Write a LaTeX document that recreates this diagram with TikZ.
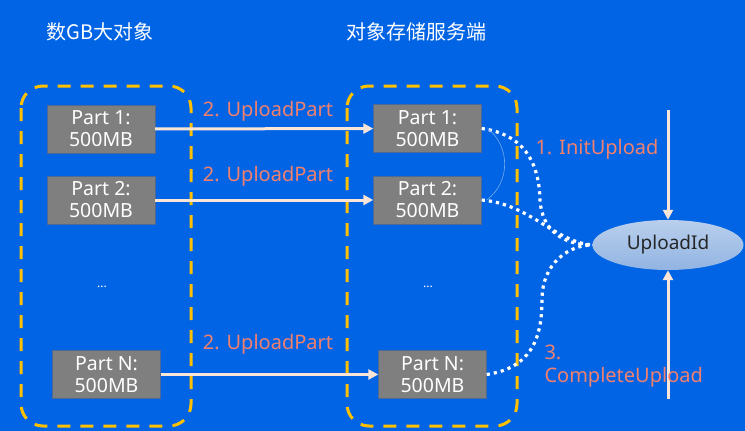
\documentclass[tikz,border=0pt]{standalone}
\usepackage{fontspec}
\setmainfont{Noto Sans}
\newfontfamily\cjk{Noto Sans CJK SC}
\usetikzlibrary{arrows.meta,shapes.geometric}
\definecolor{bg}{HTML}{0064E4}
\definecolor{zonecol}{HTML}{FFC000}
\definecolor{partfill}{HTML}{7F7F7F}
\definecolor{partline}{HTML}{4E6A94}
\definecolor{flowcol}{HTML}{FBE5D6}
\definecolor{stepcol}{HTML}{F2806E}
\definecolor{idtop}{HTML}{B9CFEC}
\definecolor{idbot}{HTML}{92B4E2}

\begin{document}
\begin{tikzpicture}[x=1pt,y=-1pt,
  part/.style={draw=partline,fill=partfill,text=white,minimum width=108pt,minimum height=48pt,
    inner sep=0pt,align=center,font=\fontsize{19.5}{22}\selectfont},
  zone/.style={zonecol,line width=3pt,dash pattern=on 13pt off 10pt,rounded corners=22pt},
  flow/.style={flowcol,line width=3pt,-{Triangle[length=10pt,width=10pt]}},
  dots/.style={white,line width=3.2pt,dash pattern=on 3.2pt off 4pt},
  steplbl/.style={text=stepcol,font=\fontsize{20}{23}\selectfont},
  title/.style={text=white,font=\cjk\fontsize{20}{24}\selectfont}]
\fill[bg](0,0)rectangle(745,431);
\useasboundingbox(0,0)rectangle(745,431);

\node[title](bigobj) at (100,32){数GB大对象};
\node[title](server) at (416,32){对象存储服务端};

\draw[zone](21,86)rectangle(191,426);
\draw[zone](347,86)rectangle(517,426);

% parts on the client and on the server
\node[part](l1) at (101,129){Part 1:\\500MB};
\node[part](l2) at (101,200){Part 2:\\500MB};
\node[part](lN) at (106.5,374.5){Part N:\\500MB};
\node[part](r1) at (427.5,128.5){Part 1:\\500MB};
\node[part](r2) at (427.5,200){Part 2:\\500MB};
\node[part](rN) at (432.5,374.5){Part N:\\500MB};
\node[text=white,font=\fontsize{12}{14}\selectfont](ldots) at (102,287){...};
\node[text=white,font=\fontsize{12}{14}\selectfont](rdots) at (428,287){...};

\foreach\a/\b/\y in {l1/r1/111,l2/r2/176,lN/rN/344}{
    \draw[flow](\a)--(\b);
    \node[steplbl] at (268,\y){2. UploadPart};
}

\node[ellipse,minimum width=151pt,minimum height=50pt,inner sep=0pt,top color=idtop,bottom color=idbot,
  text=black!85,font=\fontsize{19}{22}\selectfont](uid) at (668,245){UploadId};

\coordinate(initTop) at (668,110);
\coordinate(doneBot) at (668,399);
\draw[flow](initTop)--(uid.north);
\draw[flow](doneBot)--(uid.south);
\node[steplbl](init) at (597,149){1. InitUpload};
\node[steplbl,align=left,anchor=west](done) at (541,366){3.\\CompleteUpload};

\draw[dots](r1.east)..controls(522,134)and(539,160)..(540,200)..controls(542,232)and(565,245)..(uid.west);
\draw[dots](r2.east)..controls(530,204)and(555,242)..(uid.west);
\draw[dots](rN.east)..controls(530,368)and(542,340)..(542,300)..controls(542,262)and(570,245)..(uid.west);
\draw[white!45!bg,line width=.6pt]([xshift=6pt]r1.east)..controls(510,146)and(511,182)..([xshift=5pt]r2.east);
\end{tikzpicture}
\end{document}
